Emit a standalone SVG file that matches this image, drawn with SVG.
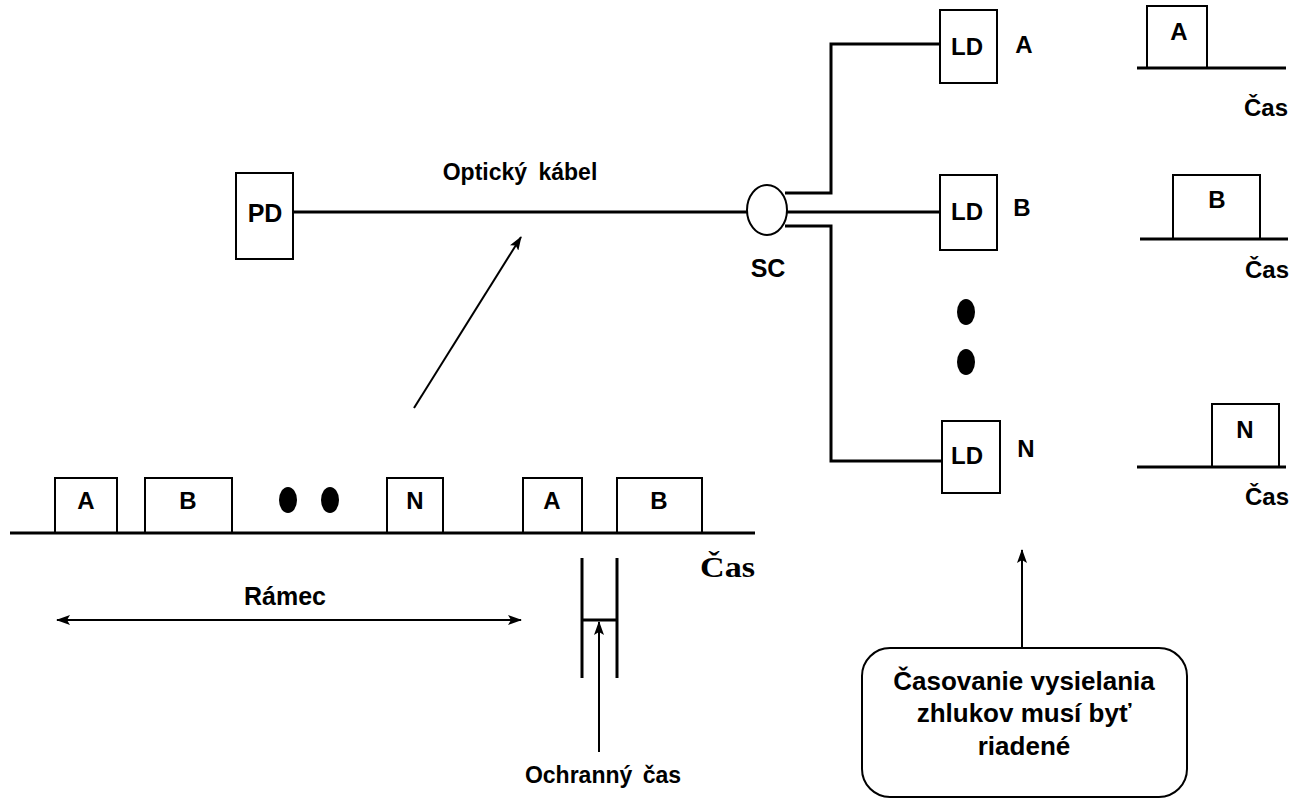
<svg xmlns="http://www.w3.org/2000/svg" width="1297" height="799" viewBox="0 0 1297 799">
<style>
.bx{fill:#fff;stroke:#000;stroke-width:2}
.ln{fill:none;stroke:#000;stroke-width:3}
.ar{fill:none;stroke:#000;stroke-width:2}
.t{font-family:"Liberation Sans",Arial,sans-serif;font-weight:bold;font-size:24px;fill:#000;text-anchor:middle}
.ts{font-family:"Liberation Serif","Times New Roman",serif;font-weight:bold;font-size:29px;fill:#000}
.dot{fill:#000}
</style>
<defs>
<marker id="ah" markerWidth="14" markerHeight="10" refX="13" refY="5" orient="auto-start-reverse" markerUnits="userSpaceOnUse">
<path d="M0,0 L14,5 L0,10 L3,5 Z" fill="#000"/>
</marker>
</defs>
<g id="connectors">
<line class="ln" x1="293" y1="212" x2="747" y2="212"/>
<polyline class="ln" points="785,193 831,193 831,44 940,44"/>
<line class="ln" x1="787" y1="212" x2="940" y2="212"/>
<polyline class="ln" points="785,226 831,226 831,461 942,461"/>
<line class="ar" x1="414" y1="408" x2="521" y2="237" marker-end="url(#ah)"/>
<line class="ar" x1="1022" y1="648" x2="1022" y2="550" marker-end="url(#ah)"/>
<line class="ar" x1="599" y1="752" x2="599" y2="622" marker-end="url(#ah)"/>
<line class="ar" x1="57" y1="620" x2="521" y2="620" marker-start="url(#ah)" marker-end="url(#ah)"/>
</g>
<g id="pd"><rect class="bx" x="236" y="173" width="57" height="86"/><text class="t" x="265" y="222" style="font-size:25px">PD</text></g>
<g id="optic-label"><text class="t" x="520" y="180" style="font-size:23px;word-spacing:5px">Optický kábel</text></g>
<g id="sc"><ellipse cx="767" cy="210" rx="20" ry="25" fill="#fff" stroke="#000" stroke-width="2"/><text class="t" x="768" y="277" style="font-size:25px">SC</text></g>
<g id="ld-a"><rect class="bx" x="940" y="10" width="57" height="73"/><text class="t" x="967" y="55">LD</text><text class="t" x="1024" y="53">A</text></g>
<g id="ld-b"><rect class="bx" x="940" y="175" width="57" height="75"/><text class="t" x="967" y="220">LD</text><text class="t" x="1022" y="216">B</text></g>
<g id="ld-dots"><ellipse class="dot" cx="966" cy="312" rx="9" ry="13"/><ellipse class="dot" cx="966" cy="362" rx="9" ry="13"/></g>
<g id="ld-n"><rect class="bx" x="942" y="421" width="58" height="72"/><text class="t" x="967" y="464">LD</text><text class="t" x="1026" y="457">N</text></g>
<g id="time-a"><rect class="bx" x="1147" y="6" width="60" height="62"/><text class="t" x="1179" y="40">A</text><line class="ln" x1="1137" y1="68" x2="1286" y2="68"/><text class="t" x="1288" y="116" style="text-anchor:end">Čas</text></g>
<g id="time-b"><rect class="bx" x="1173" y="175" width="87" height="64"/><text class="t" x="1217" y="208">B</text><line class="ln" x1="1140" y1="239" x2="1288" y2="239"/><text class="t" x="1289" y="278" style="text-anchor:end">Čas</text></g>
<g id="time-n"><rect class="bx" x="1212" y="404" width="67" height="63"/><text class="t" x="1245" y="438">N</text><line class="ln" x1="1137" y1="467" x2="1286" y2="467"/><text class="t" x="1289" y="505" style="text-anchor:end">Čas</text></g>
<g id="frame">
<rect class="bx" x="55" y="478" width="62" height="55"/><text class="t" x="86" y="509">A</text>
<rect class="bx" x="145" y="478" width="87" height="55"/><text class="t" x="188" y="509">B</text>
<ellipse class="dot" cx="288" cy="500" rx="9" ry="13"/><ellipse class="dot" cx="330" cy="500" rx="9" ry="13"/>
<rect class="bx" x="387" y="478" width="56" height="55"/><text class="t" x="415" y="509">N</text>
<rect class="bx" x="523" y="478" width="59" height="55"/><text class="t" x="552" y="509">A</text>
<rect class="bx" x="617" y="478" width="85" height="55"/><text class="t" x="659" y="509">B</text>
<line class="ln" x1="10" y1="533" x2="755" y2="533"/>
<text class="ts" x="700" y="577" textLength="55" lengthAdjust="spacingAndGlyphs">Čas</text>
</g>
<g id="ramec"><text class="t" x="285" y="605" style="font-size:25px">Rámec</text></g>
<g id="guard">
<line class="ln" x1="582" y1="558" x2="582" y2="678"/>
<line class="ln" x1="617" y1="558" x2="617" y2="678"/>
<line class="ln" x1="582" y1="620" x2="617" y2="620"/>
<text class="t" x="603" y="783" style="font-size:23px;word-spacing:4px">Ochranný čas</text>
</g>
<g id="note">
<rect x="862" y="648" width="325" height="149" rx="28" fill="#fff" stroke="#000" stroke-width="2"/>
<text class="t" x="1024" y="690" style="font-size:26px">Časovanie vysielania</text>
<text class="t" x="1024" y="722" style="font-size:26px">zhlukov musí byť</text>
<text class="t" x="1024" y="755" style="font-size:26px">riadené</text>
</g>
</svg>
